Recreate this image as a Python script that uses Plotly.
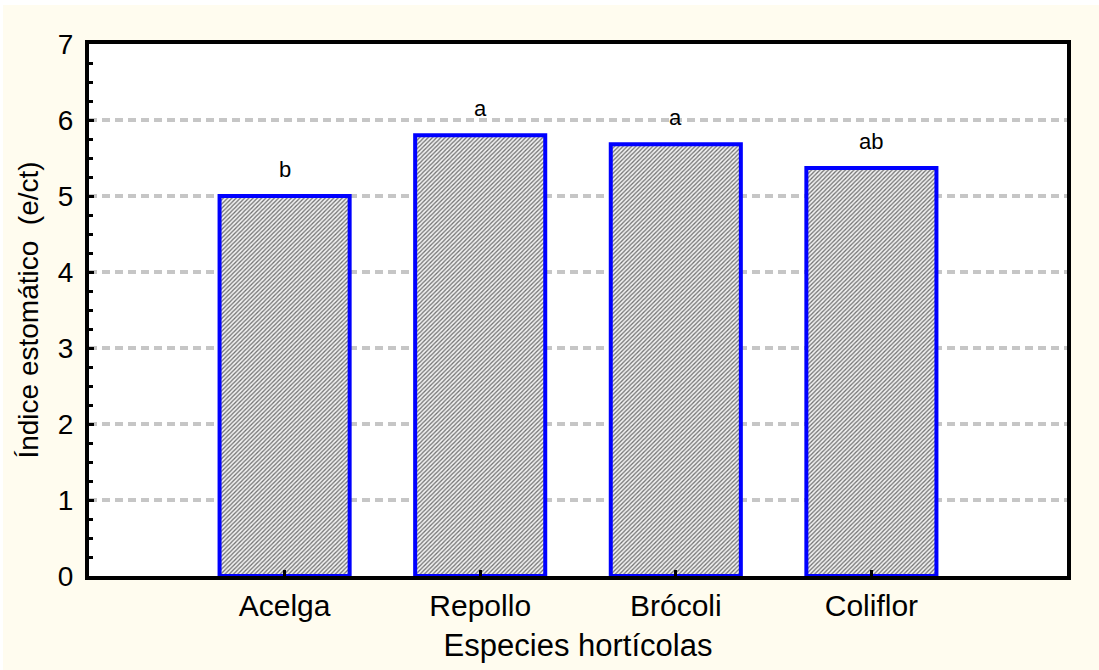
import plotly.graph_objects as go

categories = ["Acelga", "Repollo", "Brócoli", "Coliflor"]
values = [5.0, 5.8, 5.68, 5.37]
letters = ["b", "a", "a", "ab"]
y_ticks = [0, 1, 2, 3, 4, 5, 6, 7]

FONT = "Liberation Sans, Arial, sans-serif"
x_pos = list(range(len(categories)))

fig = go.Figure()
fig.add_trace(go.Bar(
    x=x_pos, y=values, width=0.665,
    marker=dict(
        color="#b4b4b4",
        line=dict(color="#0000ff", width=4),
        pattern=dict(shape="/", size=3, solidity=0.42,
                     fgcolor="#707070", bgcolor="#f2f2f2", fillmode="replace"),
    ),
    showlegend=False,
))

annotations = [
    dict(x=xp, y=v, text=t, xref="x", yref="y", showarrow=False,
         yanchor="bottom", yshift=12,
         font=dict(family=FONT, size=22, color="black"))
    for xp, v, t in zip(x_pos, values, letters)
]

fig.update_layout(
    width=1099, height=670,
    margin=dict(l=89, r=32, t=44, b=94),
    paper_bgcolor="#fffcef",
    plot_bgcolor="white",
    font=dict(family=FONT, color="black"),
    annotations=annotations,
    shapes=[
        dict(type="rect", xref="paper", yref="paper",
             x0=-89/978 - 0.05, x1=1.1, y0=(576-5)/532, y1=(576+44)/532 + 0.05,
             fillcolor="white", line=dict(width=0), layer="above"),
        dict(type="rect", xref="paper", yref="paper",
             x0=-89/978 - 0.05, x1=(3-89)/978, y0=-94/532 - 0.05, y1=(576+44)/532 + 0.05,
             fillcolor="white", line=dict(width=0), layer="above"),
    ],
)

fig.update_xaxes(
    range=[-1, 4],
    tickvals=x_pos, ticktext=categories,
    tickfont=dict(family=FONT, size=30, color="black"),
    ticks="inside", ticklen=6, tickwidth=3, tickcolor="black",
    showline=True, linewidth=4, linecolor="black", mirror=True,
    showgrid=False, zeroline=False,
    title=dict(text="Especies hortícolas", font=dict(family=FONT, size=31, color="black"), standoff=14),
)
fig.update_yaxes(
    range=[0, 7],
    tickvals=y_ticks,
    tickfont=dict(family=FONT, size=28, color="black"),
    ticks="inside", ticklen=5, tickwidth=3, tickcolor="black",
    ticklabelstandoff=6,
    minor=dict(dtick=0.25, ticks="inside", ticklen=4, tickwidth=3, tickcolor="black", showgrid=False),
    showline=True, linewidth=4, linecolor="black", mirror=True,
    showgrid=True, gridcolor="#c6c6c6", gridwidth=3.5, griddash="8px,5px",
    zeroline=False,
    title=dict(text="Índice estomático  (e/ct)", font=dict(family=FONT, size=28, color="black"), standoff=12),
)

fig.write_html("out.html", config={"displayModeBar": False},
               post_script="document.body.style.margin='0px';")
